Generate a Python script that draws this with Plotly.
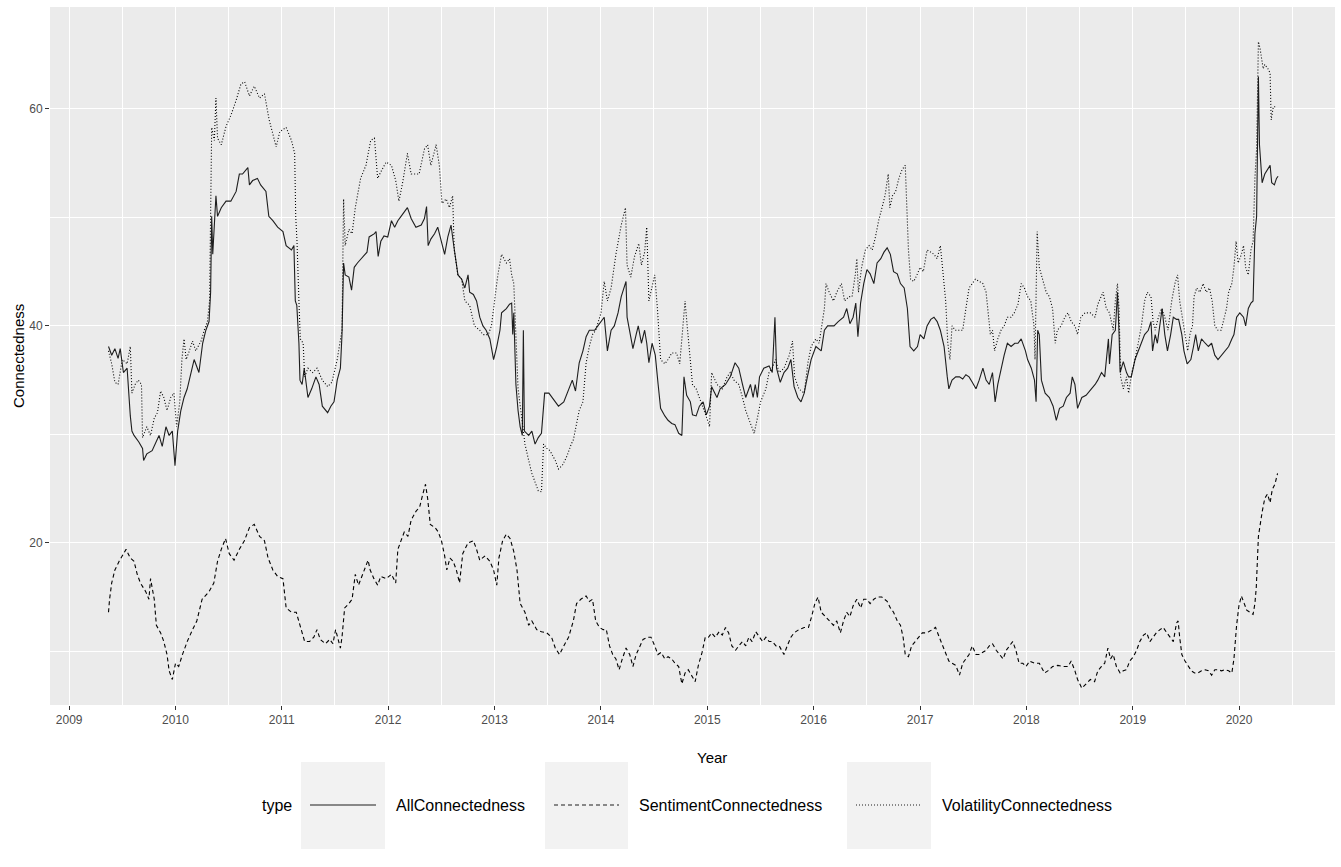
import numpy as np
import pandas as pd
import plotly.graph_objects as go

# ---- data (decimal year, connectedness) ----
all_t = [2009.37, 2009.40, 2009.43, 2009.46, 2009.48, 2009.51, 2009.545, 2009.56, 2009.575, 2009.59,
         2009.61, 2009.655, 2009.69, 2009.70, 2009.73, 2009.78, 2009.81, 2009.845, 2009.875, 2009.91,
         2009.94, 2009.97, 2009.995, 2010.02, 2010.05, 2010.08, 2010.11, 2010.145, 2010.175, 2010.22,
         2010.255, 2010.285, 2010.315, 2010.33, 2010.34, 2010.35, 2010.38, 2010.395, 2010.43, 2010.475,
         2010.52, 2010.57, 2010.60, 2010.63, 2010.66, 2010.68, 2010.695, 2010.725, 2010.77, 2010.80,
         2010.85, 2010.877, 2010.915, 2010.96, 2011.01, 2011.04, 2011.09, 2011.113, 2011.126, 2011.14,
         2011.16, 2011.17, 2011.19, 2011.21, 2011.245, 2011.28, 2011.32, 2011.35, 2011.38, 2011.43,
         2011.46, 2011.49, 2011.52, 2011.55, 2011.565, 2011.58, 2011.595, 2011.63, 2011.655, 2011.68,
         2011.71, 2011.76, 2011.80, 2011.82, 2011.87, 2011.885, 2011.905, 2011.93, 2011.96, 2011.995,
         2012.03, 2012.06, 2012.09, 2012.12, 2012.15, 2012.18, 2012.215, 2012.26, 2012.31, 2012.34,
         2012.36, 2012.375, 2012.40, 2012.435, 2012.465, 2012.50, 2012.53, 2012.56, 2012.59, 2012.61,
         2012.63, 2012.655, 2012.69, 2012.72, 2012.75, 2012.765, 2012.80, 2012.83, 2012.86, 2012.89,
         2012.92, 2012.955, 2012.99, 2013.02, 2013.05, 2013.065, 2013.11, 2013.14, 2013.16, 2013.17,
         2013.18, 2013.20, 2013.22, 2013.24, 2013.26, 2013.27, 2013.28, 2013.32, 2013.35, 2013.38,
         2013.41, 2013.44, 2013.47, 2013.51, 2013.555, 2013.60, 2013.65, 2013.695, 2013.73, 2013.76,
         2013.795, 2013.83, 2013.86, 2013.89, 2013.94, 2013.97, 2014.00, 2014.03, 2014.06, 2014.095,
         2014.125, 2014.16, 2014.19, 2014.22, 2014.235, 2014.245, 2014.27, 2014.30, 2014.33, 2014.35,
         2014.38, 2014.41, 2014.43, 2014.45, 2014.48, 2014.51, 2014.537, 2014.56, 2014.60, 2014.63,
         2014.665, 2014.695, 2014.73, 2014.76, 2014.78, 2014.805, 2014.84, 2014.86, 2014.894, 2014.925,
         2014.96, 2014.99, 2015.02, 2015.04, 2015.09, 2015.12, 2015.17, 2015.215, 2015.26, 2015.295,
         2015.33, 2015.36, 2015.405, 2015.43, 2015.45, 2015.47, 2015.49, 2015.53, 2015.58, 2015.61,
         2015.635, 2015.65, 2015.685, 2015.72, 2015.755, 2015.785, 2015.815, 2015.85, 2015.88, 2015.91,
         2015.94, 2015.975, 2016.02, 2016.07, 2016.10, 2016.13, 2016.19, 2016.23, 2016.28, 2016.31,
         2016.34, 2016.37, 2016.395, 2016.415, 2016.44, 2016.47, 2016.50, 2016.53, 2016.565, 2016.595,
         2016.63, 2016.66, 2016.69, 2016.72, 2016.75, 2016.785, 2016.815, 2016.85, 2016.88, 2016.905,
         2016.94, 2016.975, 2017.00, 2017.035, 2017.065, 2017.10, 2017.13, 2017.16, 2017.19, 2017.225,
         2017.255, 2017.27, 2017.30, 2017.335, 2017.37, 2017.40, 2017.43, 2017.46, 2017.49, 2017.525,
         2017.555, 2017.59, 2017.62, 2017.65, 2017.68, 2017.705, 2017.73, 2017.76, 2017.79, 2017.82,
         2017.855, 2017.89, 2017.92, 2017.95, 2017.99, 2018.01, 2018.045, 2018.075, 2018.09, 2018.105,
         2018.12, 2018.14, 2018.175, 2018.215, 2018.25, 2018.28, 2018.31, 2018.345, 2018.375, 2018.41,
         2018.43, 2018.455, 2018.48, 2018.52, 2018.56, 2018.61, 2018.645, 2018.67, 2018.705, 2018.735,
         2018.77, 2018.78, 2018.805, 2018.835, 2018.855, 2018.87, 2018.88, 2018.91, 2018.94, 2018.96,
         2018.985, 2019.02, 2019.05, 2019.08, 2019.11, 2019.145, 2019.17, 2019.185, 2019.21, 2019.23,
         2019.255, 2019.275, 2019.30, 2019.325, 2019.355, 2019.38, 2019.41, 2019.43, 2019.46, 2019.48,
         2019.51, 2019.545, 2019.57, 2019.59, 2019.615, 2019.645, 2019.68, 2019.71, 2019.74, 2019.77,
         2019.80, 2019.835, 2019.865, 2019.90, 2019.93, 2019.95, 2019.975, 2020.005, 2020.04, 2020.06,
         2020.085, 2020.11, 2020.13, 2020.147, 2020.163, 2020.172, 2020.18, 2020.19, 2020.20, 2020.215,
         2020.24, 2020.265, 2020.29, 2020.305, 2020.33, 2020.35, 2020.365]
all_v = [38.1, 37.3, 37.9, 37.0, 37.9, 35.7, 36.1, 33.4, 31.7, 30.3,
         29.9, 29.3, 28.7, 27.6, 28.2, 28.5, 29.1, 29.9, 28.9, 30.7,
         29.9, 30.3, 27.1, 30.3, 32.2, 33.4, 34.2, 35.7, 36.9, 35.7,
         38.4, 39.6, 40.4, 43.1, 50.1, 46.6, 52.0, 50.1, 50.9, 51.5,
         51.5, 52.4, 54.0, 54.0, 54.4, 54.6, 53.0, 53.4, 53.6, 53.0,
         52.4, 50.1, 49.7, 49.1, 48.7, 47.4, 47.0, 47.4, 42.3, 41.9,
         38.4, 35.0, 34.6, 36.1, 33.4, 34.2, 35.3, 34.6, 32.6, 32.0,
         32.6, 33.0, 35.0, 36.1, 39.2, 45.8, 44.7, 44.5, 43.3, 45.4,
         45.8, 46.4, 46.8, 48.2, 48.5, 48.7, 46.4, 47.8, 48.3, 48.2,
         49.7, 49.1, 49.7, 50.1, 50.5, 50.9, 49.9, 49.1, 49.3, 49.9,
         51.0, 47.4, 48.0, 48.5, 49.1, 47.8, 46.6, 48.2, 49.3, 47.8,
         46.2, 44.7, 44.3, 43.5, 44.7, 43.1, 42.9, 42.3, 40.8, 40.0,
         39.6, 38.8, 36.9, 38.1, 39.6, 41.2, 41.6, 42.0, 42.1, 39.2,
         41.2, 34.6, 32.2, 30.7, 29.9, 39.6, 30.3, 29.9, 30.3, 29.1,
         29.7, 30.1, 33.8, 33.8, 33.2, 32.6, 33.0, 34.2, 35.0, 34.0,
         36.6, 37.7, 39.0, 39.6, 39.6, 40.0, 40.4, 40.8, 37.7, 39.6,
         40.0, 41.2, 42.7, 43.5, 44.1, 40.8, 39.6, 37.9, 39.2, 40.0,
         38.4, 39.6, 38.4, 36.6, 38.4, 37.3, 34.6, 32.4, 31.7, 31.3,
         31.0, 30.9, 30.1, 29.9, 35.3, 33.6, 33.0, 31.8, 31.7, 32.6,
         33.0, 31.8, 32.6, 34.4, 33.4, 34.2, 34.6, 35.3, 36.6, 36.1,
         34.6, 33.4, 34.6, 33.4, 34.6, 33.4, 35.3, 36.1, 36.3, 35.7,
         40.8, 36.1, 34.8, 35.7, 36.1, 36.9, 34.4, 33.4, 33.0, 33.8,
         35.3, 36.9, 38.1, 37.7, 39.6, 40.0, 40.0, 40.4, 40.8, 41.6,
         40.2, 40.8, 42.1, 39.0, 42.1, 43.9, 45.2, 44.8, 43.9, 45.8,
         46.2, 46.8, 47.2, 46.6, 45.0, 44.8, 43.9, 43.5, 41.6, 38.1,
         37.7, 38.1, 39.2, 38.8, 40.0, 40.6, 40.8, 40.4, 39.6, 38.1,
         35.3, 34.2, 35.0, 35.3, 35.3, 35.1, 35.5, 35.3, 34.8, 34.2,
         35.0, 36.1, 35.0, 34.6, 35.7, 33.0, 34.6, 36.1, 37.3, 38.4,
         38.1, 38.4, 38.4, 38.8, 37.7, 36.9, 36.1, 35.0, 33.0, 39.6,
         39.2, 35.0, 33.8, 33.4, 32.6, 31.3, 32.4, 32.6, 33.4, 33.8,
         35.3, 34.6, 32.4, 33.4, 33.6, 34.2, 34.6, 35.0, 35.7, 35.3,
         38.8, 36.5, 39.2, 39.6, 43.1, 39.2, 35.7, 36.7, 35.7, 35.3,
         35.3, 36.9, 37.7, 38.4, 39.2, 39.6, 40.4, 37.7, 39.2, 38.4,
         40.0, 41.6, 39.2, 37.7, 39.2, 40.8, 40.6, 40.6, 39.2, 37.7,
         36.5, 36.9, 38.1, 39.2, 37.7, 38.8, 38.4, 38.1, 38.4, 37.3,
         36.9, 37.3, 37.7, 38.1, 38.8, 39.2, 40.8, 41.2, 40.8, 40.0,
         41.6, 42.1, 42.3, 48.5, 50.1, 57.1, 63.0, 56.7, 54.8, 53.2,
         54.0, 54.4, 54.8, 53.2, 53.0, 53.6, 53.8]

sent_t = [2009.37, 2009.38, 2009.40, 2009.43, 2009.47, 2009.50, 2009.535, 2009.575, 2009.61, 2009.64,
          2009.67, 2009.72, 2009.75, 2009.765, 2009.80, 2009.82, 2009.86, 2009.89, 2009.92, 2009.94,
          2009.97, 2010.00, 2010.03, 2010.065, 2010.11, 2010.16, 2010.20, 2010.25, 2010.315, 2010.36,
          2010.395, 2010.43, 2010.47, 2010.505, 2010.55, 2010.60, 2010.647, 2010.695, 2010.74, 2010.79,
          2010.836, 2010.87, 2010.915, 2010.96, 2011.01, 2011.04, 2011.09, 2011.135, 2011.18, 2011.214,
          2011.26, 2011.30, 2011.33, 2011.36, 2011.41, 2011.45, 2011.48, 2011.505, 2011.55, 2011.565,
          2011.59, 2011.63, 2011.66, 2011.69, 2011.72, 2011.77, 2011.81, 2011.83, 2011.865, 2011.90,
          2011.93, 2011.98, 2012.03, 2012.07, 2012.09, 2012.12, 2012.15, 2012.185, 2012.215, 2012.26,
          2012.295, 2012.325, 2012.35, 2012.37, 2012.395, 2012.44, 2012.47, 2012.50, 2012.53, 2012.55,
          2012.58, 2012.61, 2012.64, 2012.67, 2012.70, 2012.75, 2012.80, 2012.83, 2012.86, 2012.91,
          2012.955, 2012.99, 2013.02, 2013.04, 2013.075, 2013.11, 2013.145, 2013.18, 2013.21, 2013.24,
          2013.285, 2013.32, 2013.35, 2013.395, 2013.44, 2013.49, 2013.535, 2013.57, 2013.61, 2013.65,
          2013.695, 2013.74, 2013.77, 2013.81, 2013.86, 2013.89, 2013.92, 2013.95, 2013.985, 2014.02,
          2014.05, 2014.08, 2014.11, 2014.14, 2014.17, 2014.20, 2014.235, 2014.27, 2014.30, 2014.33,
          2014.365, 2014.395, 2014.44, 2014.47, 2014.505, 2014.535, 2014.565, 2014.60, 2014.63, 2014.665,
          2014.695, 2014.73, 2014.76, 2014.79, 2014.82, 2014.85, 2014.885, 2014.915, 2014.95, 2014.98,
          2015.01, 2015.04, 2015.075, 2015.11, 2015.14, 2015.17, 2015.20, 2015.23, 2015.265, 2015.295,
          2015.33, 2015.36, 2015.39, 2015.42, 2015.455, 2015.49, 2015.52, 2015.55, 2015.58, 2015.61,
          2015.645, 2015.675, 2015.72, 2015.75, 2015.785, 2015.815, 2015.86, 2015.91, 2015.95, 2015.98,
          2016.01, 2016.04, 2016.07, 2016.11, 2016.15, 2016.185, 2016.216, 2016.25, 2016.28, 2016.31,
          2016.34, 2016.37, 2016.405, 2016.44, 2016.47, 2016.50, 2016.53, 2016.565, 2016.595, 2016.64,
          2016.69, 2016.72, 2016.75, 2016.785, 2016.815, 2016.84, 2016.86, 2016.89, 2016.92, 2016.955,
          2016.99, 2017.02, 2017.05, 2017.08, 2017.115, 2017.145, 2017.18, 2017.21, 2017.24, 2017.27,
          2017.30, 2017.335, 2017.37, 2017.40, 2017.43, 2017.46, 2017.49, 2017.525, 2017.555, 2017.59,
          2017.62, 2017.65, 2017.68, 2017.715, 2017.745, 2017.78, 2017.81, 2017.84, 2017.87, 2017.90,
          2017.93, 2017.965, 2017.995, 2018.03, 2018.075, 2018.12, 2018.17, 2018.20, 2018.245, 2018.295,
          2018.34, 2018.39, 2018.42, 2018.455, 2018.48, 2018.52, 2018.56, 2018.60, 2018.64, 2018.67,
          2018.705, 2018.735, 2018.765, 2018.79, 2018.815, 2018.845, 2018.88, 2018.91, 2018.94, 2018.97,
          2019.005, 2019.035, 2019.065, 2019.10, 2019.13, 2019.16, 2019.19, 2019.22, 2019.255, 2019.285,
          2019.32, 2019.35, 2019.38, 2019.41, 2019.425, 2019.44, 2019.46, 2019.49, 2019.52, 2019.55,
          2019.58, 2019.61, 2019.645, 2019.68, 2019.71, 2019.74, 2019.77, 2019.80, 2019.835, 2019.865,
          2019.90, 2019.93, 2019.95, 2019.975, 2019.997, 2020.02, 2020.047, 2020.07, 2020.10, 2020.13,
          2020.147, 2020.16, 2020.18, 2020.195, 2020.216, 2020.24, 2020.265, 2020.29, 2020.31, 2020.335,
          2020.36]
sent_v = [13.6, 14.8, 16.3, 17.5, 18.3, 18.8, 19.4, 18.6, 18.3, 17.1,
          16.3, 15.5, 14.8, 16.7, 14.8, 12.4, 11.7, 10.9, 9.7, 8.2,
          7.4, 8.9, 8.6, 9.7, 10.9, 12.0, 12.8, 14.8, 15.5, 16.3,
          18.3, 19.4, 20.4, 19.0, 18.4, 19.4, 20.2, 21.4, 21.7, 20.6,
          20.2, 18.6, 17.5, 16.9, 16.7, 14.0, 13.6, 13.6, 12.0, 10.9,
          10.9, 11.3, 12.0, 11.1, 10.7, 11.1, 10.7, 12.0, 10.3, 11.3,
          14.0, 14.4, 14.8, 17.1, 16.1, 17.3, 18.4, 17.5, 16.7, 16.1,
          16.9, 16.7, 17.1, 16.3, 19.4, 20.2, 21.0, 20.6, 22.1, 22.9,
          23.3, 24.5, 25.4, 24.1, 21.7, 21.4, 21.0, 20.2, 18.8, 17.5,
          18.6, 18.3, 17.5, 16.3, 19.0, 20.0, 20.2, 19.4, 18.4, 18.8,
          18.3, 17.5, 16.1, 18.6, 20.2, 20.8, 20.4, 19.2, 17.5, 14.4,
          13.6, 12.4, 12.8, 12.0, 11.8, 11.7, 11.3, 10.3, 9.7, 10.5,
          11.3, 12.8, 14.4, 14.8, 15.1, 14.6, 14.8, 12.8, 12.2, 12.0,
          12.0, 10.5, 9.7, 9.3, 8.3, 9.3, 10.3, 9.7, 8.6, 9.7,
          10.5, 11.1, 11.3, 11.3, 10.5, 9.7, 9.9, 9.3, 9.5, 9.3,
          8.9, 8.6, 7.0, 8.0, 8.3, 7.8, 7.2, 8.7, 9.9, 11.3,
          11.3, 11.7, 11.3, 11.8, 11.5, 12.2, 11.7, 10.5, 10.1, 10.5,
          10.9, 10.5, 11.3, 10.9, 11.8, 11.3, 10.9, 11.3, 10.9, 10.9,
          10.5, 10.5, 9.7, 10.5, 11.3, 11.7, 12.0, 12.2, 12.2, 13.2,
          14.4, 15.0, 13.6, 13.2, 12.8, 12.4, 12.8, 11.7, 12.8, 13.6,
          13.2, 14.2, 14.8, 14.0, 14.8, 14.8, 14.4, 14.8, 15.0, 15.0,
          14.6, 14.0, 13.6, 12.8, 12.4, 11.3, 9.7, 9.5, 10.5, 10.9,
          11.3, 11.7, 11.7, 11.8, 12.0, 12.2, 11.3, 10.5, 9.7, 9.1,
          8.9, 8.7, 7.8, 8.9, 9.3, 9.7, 10.5, 9.7, 9.7, 9.9,
          10.1, 10.5, 10.7, 10.1, 9.7, 9.3, 10.1, 10.5, 10.9, 10.1,
          8.9, 8.9, 8.6, 9.1, 8.9, 8.9, 8.0, 8.2, 8.6, 8.7,
          8.6, 8.6, 9.1, 8.2, 7.4, 6.6, 7.0, 7.4, 7.2, 8.2,
          8.6, 8.9, 10.3, 9.3, 9.7, 8.6, 8.0, 8.2, 8.3, 9.1,
          9.5, 10.1, 10.9, 11.5, 11.7, 10.9, 11.3, 11.7, 12.0, 12.2,
          11.7, 11.3, 10.9, 12.6, 12.8, 11.3, 9.7, 9.1, 8.6, 8.2,
          8.0, 8.0, 8.2, 8.3, 8.2, 7.8, 8.3, 8.3, 8.2, 8.3,
          8.2, 8.0, 9.3, 12.4, 14.2, 15.1, 14.4, 13.8, 13.6, 13.4,
          14.4, 15.9, 20.6, 21.7, 22.9, 24.1, 24.5, 23.7, 24.9, 25.4,
          26.4]

vol_t = [2009.37, 2009.40, 2009.43, 2009.46, 2009.50, 2009.545, 2009.575, 2009.59, 2009.62, 2009.65,
         2009.68, 2009.69, 2009.73, 2009.765, 2009.80, 2009.83, 2009.86, 2009.89, 2009.92, 2009.955,
         2009.985, 2010.01, 2010.04, 2010.06, 2010.08, 2010.10, 2010.13, 2010.16, 2010.19, 2010.24,
         2010.27, 2010.30, 2010.32, 2010.33, 2010.34, 2010.365, 2010.38, 2010.395, 2010.43, 2010.475,
         2010.52, 2010.57, 2010.615, 2010.65, 2010.695, 2010.74, 2010.79, 2010.836, 2010.88, 2010.915,
         2010.946, 2010.98, 2011.04, 2011.09, 2011.12, 2011.13, 2011.142, 2011.16, 2011.173, 2011.20,
         2011.214, 2011.245, 2011.29, 2011.33, 2011.38, 2011.43, 2011.47, 2011.52, 2011.55, 2011.565,
         2011.58, 2011.595, 2011.63, 2011.66, 2011.69, 2011.74, 2011.79, 2011.835, 2011.87, 2011.90,
         2011.93, 2011.98, 2012.03, 2012.07, 2012.10, 2012.135, 2012.18, 2012.215, 2012.255, 2012.29,
         2012.34, 2012.37, 2012.40, 2012.45, 2012.48, 2012.505, 2012.545, 2012.575, 2012.605, 2012.62,
         2012.655, 2012.69, 2012.72, 2012.765, 2012.81, 2012.86, 2012.89, 2012.94, 2012.97, 2013.00,
         2013.03, 2013.065, 2013.11, 2013.14, 2013.16, 2013.18, 2013.20, 2013.22, 2013.255, 2013.285,
         2013.32, 2013.35, 2013.38, 2013.41, 2013.44, 2013.46, 2013.49, 2013.52, 2013.57, 2013.60,
         2013.64, 2013.68, 2013.72, 2013.74, 2013.795, 2013.83, 2013.86, 2013.89, 2013.92, 2013.95,
         2014.00, 2014.03, 2014.06, 2014.095, 2014.14, 2014.19, 2014.23, 2014.245, 2014.28, 2014.315,
         2014.355, 2014.38, 2014.41, 2014.43, 2014.45, 2014.47, 2014.505, 2014.53, 2014.56, 2014.60,
         2014.63, 2014.665, 2014.71, 2014.74, 2014.775, 2014.79, 2014.81, 2014.84, 2014.86, 2014.894,
         2014.925, 2014.96, 2014.995, 2015.02, 2015.04, 2015.09, 2015.14, 2015.185, 2015.215, 2015.25,
         2015.295, 2015.33, 2015.36, 2015.405, 2015.44, 2015.47, 2015.50, 2015.55, 2015.58, 2015.61,
         2015.64, 2015.675, 2015.72, 2015.77, 2015.80, 2015.82, 2015.86, 2015.91, 2015.945, 2015.975,
         2016.02, 2016.05, 2016.10, 2016.115, 2016.145, 2016.185, 2016.216, 2016.26, 2016.29, 2016.33,
         2016.36, 2016.39, 2016.405, 2016.42, 2016.45, 2016.485, 2016.52, 2016.55, 2016.58, 2016.61,
         2016.64, 2016.67, 2016.70, 2016.715, 2016.74, 2016.77, 2016.80, 2016.83, 2016.86, 2016.875,
         2016.89, 2016.91, 2016.94, 2016.97, 2017.00, 2017.03, 2017.065, 2017.10, 2017.13, 2017.16,
         2017.19, 2017.21, 2017.24, 2017.26, 2017.28, 2017.30, 2017.33, 2017.37, 2017.40, 2017.43,
         2017.46, 2017.49, 2017.52, 2017.555, 2017.59, 2017.62, 2017.635, 2017.66, 2017.68, 2017.70,
         2017.73, 2017.76, 2017.79, 2017.82, 2017.855, 2017.885, 2017.92, 2017.95, 2017.98, 2018.01,
         2018.04, 2018.07, 2018.08, 2018.10, 2018.12, 2018.15, 2018.185, 2018.215, 2018.245, 2018.27,
         2018.29, 2018.325, 2018.36, 2018.39, 2018.42, 2018.455, 2018.48, 2018.51, 2018.55, 2018.60,
         2018.645, 2018.67, 2018.72, 2018.75, 2018.78, 2018.815, 2018.835, 2018.855, 2018.87, 2018.885,
         2018.91, 2018.94, 2018.96, 2018.99, 2019.02, 2019.05, 2019.08, 2019.11, 2019.135, 2019.17,
         2019.19, 2019.21, 2019.24, 2019.27, 2019.30, 2019.33, 2019.365, 2019.395, 2019.42, 2019.44,
         2019.465, 2019.49, 2019.515, 2019.536, 2019.56, 2019.575, 2019.60, 2019.63, 2019.66, 2019.69,
         2019.72, 2019.745, 2019.77, 2019.80, 2019.83, 2019.86, 2019.88, 2019.90, 2019.93, 2019.95,
         2019.97, 2019.99, 2020.02, 2020.04, 2020.06, 2020.085, 2020.11, 2020.13, 2020.147, 2020.163,
         2020.18, 2020.195, 2020.21, 2020.225, 2020.24, 2020.27, 2020.29, 2020.30, 2020.32, 2020.35]
vol_v = [37.7, 36.5, 34.8, 34.6, 36.9, 36.5, 38.1, 33.8, 34.6, 35.0,
         34.6, 29.7, 30.7, 29.9, 31.5, 32.0, 34.0, 33.4, 32.2, 33.4,
         33.8, 30.7, 33.0, 36.9, 38.8, 36.9, 37.7, 38.6, 37.7, 38.6,
         39.6, 40.4, 42.3, 50.1, 58.3, 57.1, 61.0, 57.3, 56.7, 58.4,
         59.4, 60.8, 62.3, 62.5, 61.2, 62.1, 61.0, 61.4, 59.0, 57.7,
         56.5, 57.9, 58.3, 57.1, 55.9, 50.1, 47.8, 42.3, 38.8, 38.4,
         35.3, 36.1, 35.7, 36.1, 35.0, 34.4, 34.8, 36.9, 38.8, 39.6,
         51.7, 47.4, 48.9, 48.5, 50.9, 53.6, 54.8, 57.1, 57.3, 53.6,
         54.2, 55.1, 54.8, 53.4, 51.5, 53.2, 55.9, 54.0, 54.0, 54.0,
         56.3, 56.7, 54.8, 56.7, 54.8, 51.3, 51.7, 50.9, 52.0, 47.0,
         44.7, 44.3, 42.3, 41.9, 40.0, 39.6, 39.2, 39.2, 40.0, 42.3,
         44.7, 46.6, 45.8, 46.2, 44.7, 43.9, 39.2, 34.2, 31.5, 29.1,
         27.6, 26.4, 25.6, 24.8, 24.7, 29.1, 28.7, 28.5, 27.6, 26.8,
         27.2, 28.0, 29.1, 29.5, 32.2, 33.0, 36.6, 38.1, 39.2, 39.6,
         41.2, 44.1, 42.3, 43.5, 46.6, 49.3, 50.9, 45.6, 44.5, 46.4,
         47.6, 45.6, 46.8, 49.1, 42.3, 43.1, 44.7, 41.6, 36.9, 36.5,
         36.9, 37.5, 37.5, 36.5, 41.2, 42.3, 40.0, 36.9, 34.6, 34.2,
         33.4, 32.6, 31.5, 30.7, 35.7, 34.6, 34.2, 35.3, 35.7, 35.0,
         34.6, 33.4, 32.2, 31.0, 30.1, 31.5, 33.0, 34.2, 35.7, 36.1,
         36.9, 35.7, 36.1, 37.3, 38.6, 35.3, 34.2, 33.8, 36.6, 38.1,
         38.8, 38.4, 41.6, 43.9, 43.1, 42.3, 43.1, 43.9, 42.3, 42.7,
         42.7, 44.7, 46.2, 43.1, 45.4, 47.0, 47.4, 47.0, 48.2, 49.7,
         50.9, 52.0, 54.0, 50.9, 52.0, 52.4, 53.6, 54.4, 54.8, 50.1,
         47.0, 44.3, 44.1, 44.7, 45.4, 45.0, 47.0, 46.8, 46.6, 46.2,
         47.4, 45.4, 42.3, 38.4, 36.9, 40.0, 39.6, 39.6, 39.6, 41.6,
         43.5, 43.9, 44.3, 44.1, 43.9, 43.1, 41.6, 39.2, 39.6, 37.7,
         38.8, 39.6, 40.0, 40.8, 40.8, 41.2, 42.0, 43.9, 43.5, 42.7,
         42.3, 40.0, 36.9, 48.7, 45.4, 44.3, 43.1, 42.7, 41.6, 38.4,
         39.6, 40.0, 40.8, 41.2, 40.4, 40.0, 39.2, 40.8, 41.2, 41.2,
         40.8, 42.0, 43.1, 41.6, 41.2, 39.6, 42.3, 43.9, 41.6, 35.3,
         34.2, 35.3, 33.8, 35.7, 36.9, 38.4, 40.0, 42.3, 43.1, 42.7,
         40.4, 39.6, 40.8, 41.6, 40.8, 39.6, 42.3, 43.9, 44.7, 42.3,
         40.8, 39.6, 37.7, 39.2, 40.0, 42.7, 43.5, 43.1, 43.9, 43.1,
         43.5, 42.3, 40.0, 39.6, 39.6, 40.8, 41.6, 43.1, 43.9, 45.4,
         47.8, 45.8, 46.6, 47.4, 45.4, 44.7, 47.0, 47.8, 53.6, 56.3,
         66.2, 65.6, 64.5, 63.7, 64.1, 63.7, 63.3, 59.0, 60.2, 60.2]

year_ticks = ["2009", "2010", "2011", "2012", "2013", "2014",
              "2015", "2016", "2017", "2018", "2019", "2020"]


def to_dates(years):
    """Decimal years -> timestamps."""
    years = np.asarray(years, dtype=float)
    base = pd.Timestamp("2009-01-01")
    return base + pd.to_timedelta((years - 2009.0) * 365.25, unit="D")


# ---- geometry of the panel in pixels ----
W, H = 1341, 867
PL, PR, PT, PB = 50, 1335, 7, 705


def px(x):
    return (x - PL) / (PR - PL)


def py(y):
    return (PB - y) / (PB - PT)


FONT = "Liberation Sans, Arial, Helvetica, sans-serif"

fig = go.Figure()
fig.add_trace(go.Scatter(x=to_dates(all_t), y=all_v, mode="lines", name="AllConnectedness",
                         line=dict(color="#1e1e1e", width=1.1)))
fig.add_trace(go.Scatter(x=to_dates(sent_t), y=sent_v, mode="lines", name="SentimentConnectedness",
                         line=dict(color="#000000", width=1.1, dash="4px,3px")))
fig.add_trace(go.Scatter(x=to_dates(vol_t), y=vol_v, mode="lines", name="VolatilityConnectedness",
                         line=dict(color="#000000", width=1.1, dash="1px,2px")))

xr = to_dates([2008.82, 2020.90])
fig.update_layout(
    width=W, height=H,
    margin=dict(l=PL, r=W - PR, t=PT, b=H - PB, autoexpand=False),
    paper_bgcolor="white", plot_bgcolor="#EBEBEB",
    showlegend=False,
    font=dict(family=FONT, color="#000000"),
    xaxis=dict(
        type="date", range=[xr[0], xr[1]],
        tickvals=[f"{y}-01-01" for y in year_ticks], ticktext=year_ticks,
        showgrid=True, gridcolor="white", gridwidth=1.3,
        minor=dict(tickvals=[f"{y}-07-02" for y in ["2008"] + year_ticks],
                   showgrid=True, gridcolor="white", gridwidth=0.6, ticks=""),
        ticks="outside", ticklen=4, tickwidth=1, tickcolor="#333333",
        tickfont=dict(size=12, color="#4D4D4D", family=FONT),
        zeroline=False, showline=False, automargin=False,
    ),
    yaxis=dict(
        range=[5.05, 69.4],
        tickvals=[20, 40, 60],
        showgrid=True, gridcolor="white", gridwidth=1.3,
        minor=dict(tickvals=[10, 30, 50], showgrid=True, gridcolor="white",
                   gridwidth=0.6, ticks=""),
        ticks="outside", ticklen=4, tickwidth=1, tickcolor="#333333",
        tickfont=dict(size=12, color="#4D4D4D", family=FONT),
        zeroline=False, showline=False, automargin=False,
    ),
)

annotations = [
    dict(text="Year", x=px(712), y=py(757), xref="paper", yref="paper",
         showarrow=False, xanchor="center", yanchor="middle",
         font=dict(size=15, color="#000000", family=FONT)),
    dict(text="Connectedness", x=px(18), y=py(356), xref="paper", yref="paper",
         showarrow=False, xanchor="center", yanchor="middle", textangle=-90,
         font=dict(size=15, color="#000000", family=FONT)),
    dict(text="type", x=px(260), y=py(805), xref="paper", yref="paper",
         showarrow=False, xanchor="left", yanchor="middle",
         font=dict(size=16, color="#000000", family=FONT)),
]

# legend drawn by hand: grey key boxes with a line sample, then the label
legend_items = [
    ("AllConnectedness", "solid", 301, 385, 394),
    ("SentimentConnectedness", "4px,3px", 545, 628, 637),
    ("VolatilityConnectedness", "1px,2px", 847, 931, 940),
]
shapes = []
for label, dash, x0, x1, tx in legend_items:
    shapes.append(dict(type="rect", xref="paper", yref="paper",
                       x0=px(x0), x1=px(x1), y0=py(849), y1=py(762),
                       fillcolor="#F2F2F2", line=dict(width=0), layer="above"))
    shapes.append(dict(type="line", xref="paper", yref="paper",
                       x0=px(x0 + 9), x1=px(x1 - 9), y0=py(805), y1=py(805),
                       line=dict(color="#1e1e1e", width=1.1, dash=dash), layer="above"))
    annotations.append(dict(text=label, x=px(tx), y=py(805), xref="paper", yref="paper",
                            showarrow=False, xanchor="left", yanchor="middle",
                            font=dict(size=16, color="#000000", family=FONT)))

fig.update_layout(annotations=annotations, shapes=shapes)

fig.write_html("out.html")
